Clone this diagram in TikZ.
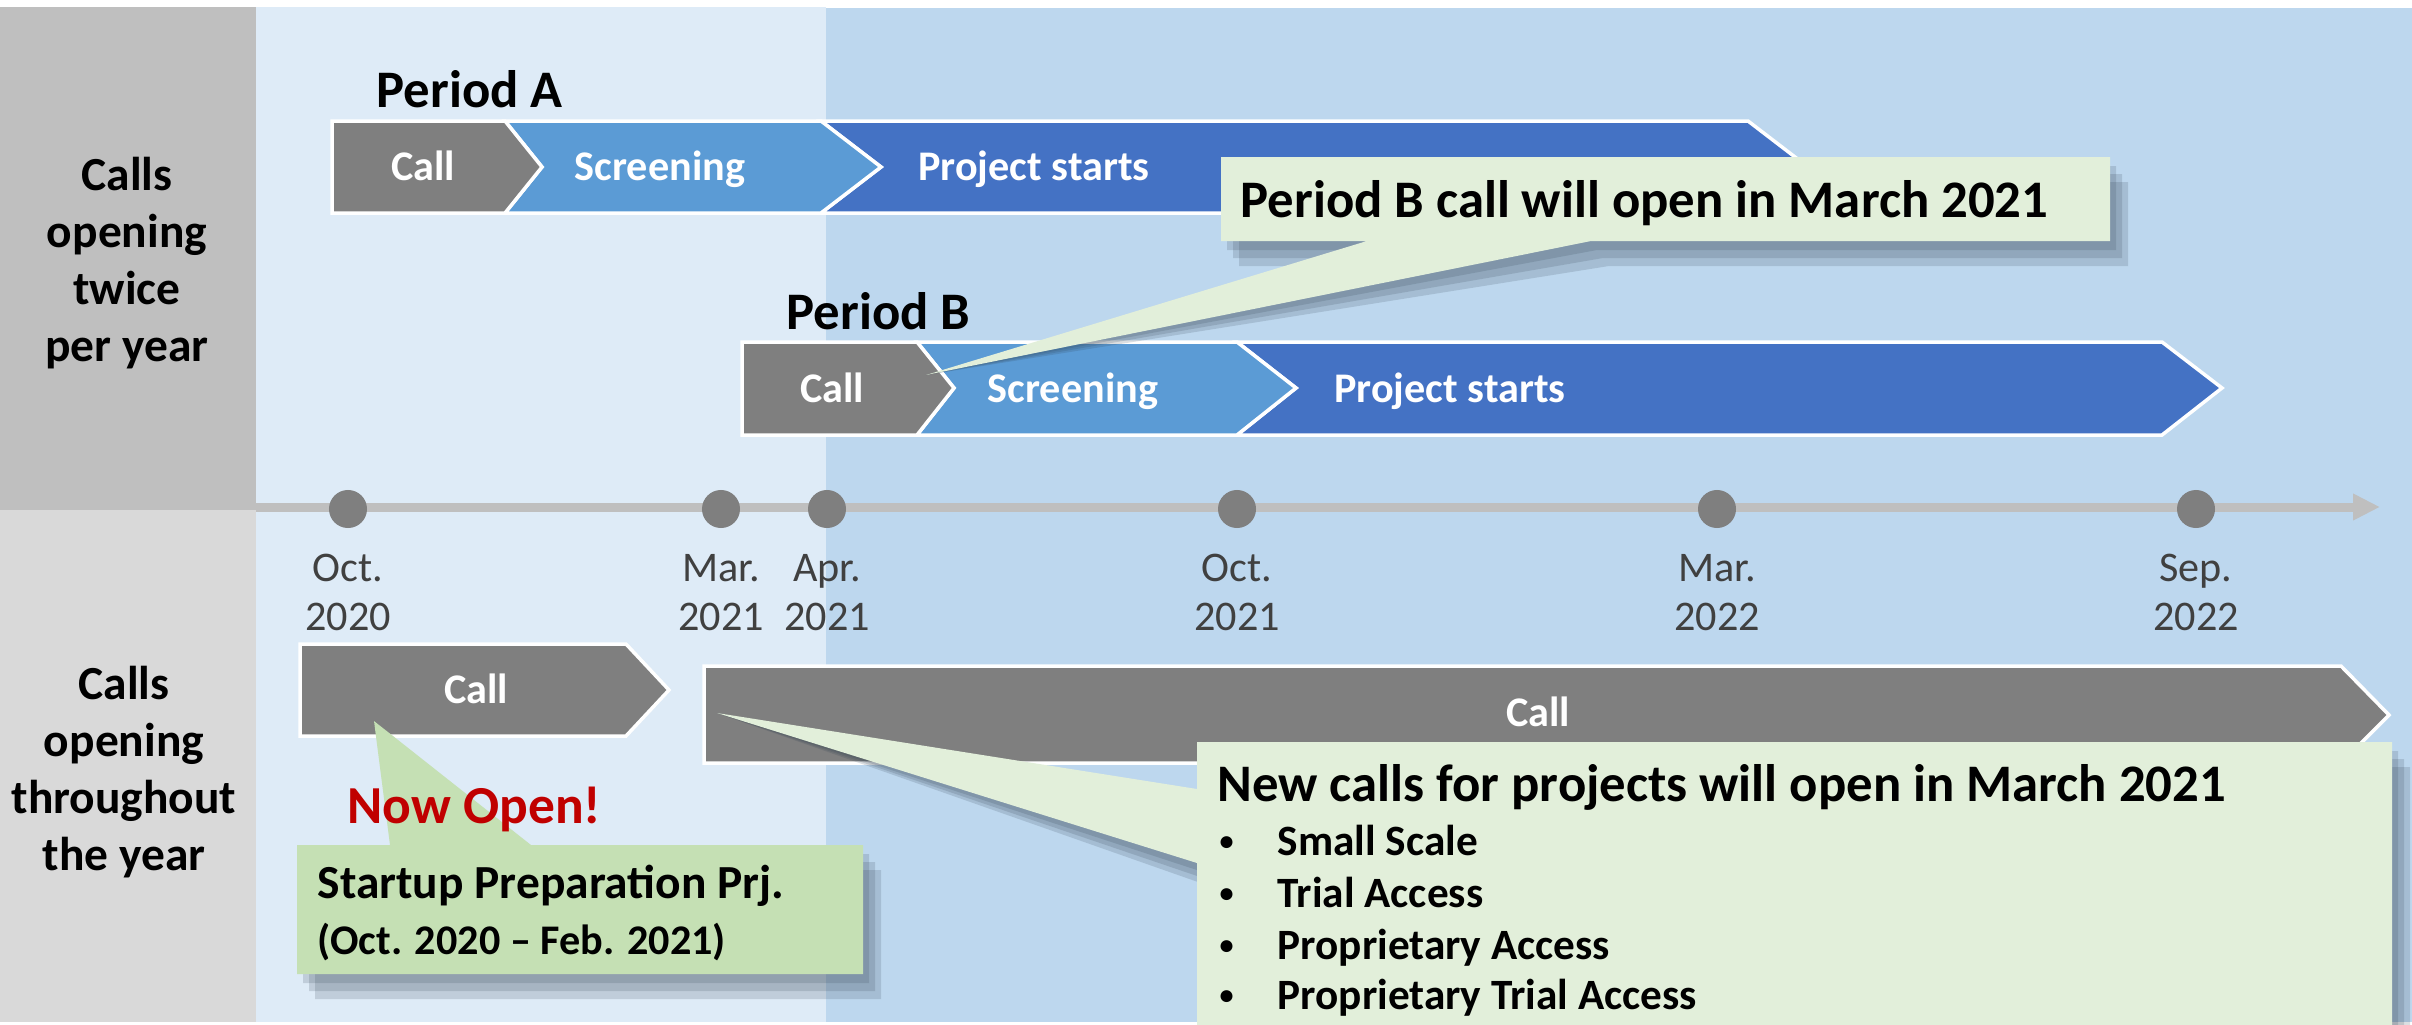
\documentclass[tikz,border=0pt]{standalone}
\usepackage{fontspec}
\setmainfont{Carlito}
\usetikzlibrary{arrows.meta}
\definecolor{graydark}{HTML}{BFBFBF}
\definecolor{graylight}{HTML}{D9D9D9}
\definecolor{bluelight}{HTML}{DEEBF7}
\definecolor{bluemid}{HTML}{BDD7EE}
\definecolor{chevgray}{HTML}{7F7F7F}
\definecolor{chevscreen}{HTML}{5B9BD5}
\definecolor{chevproj}{HTML}{4472C4}
\definecolor{callpale}{HTML}{E2EFDA}
\definecolor{callgreen}{HTML}{C5E0B4}
\definecolor{nowred}{HTML}{C00000}
\definecolor{datetext}{HTML}{404040}
\definecolor{shadowcol}{HTML}{2F3F4F}
\begin{document}
\begin{tikzpicture}[x=0.01cm,y=-0.01cm,
  chev/.style={draw=white,line width=0.035cm,line join=miter},
  chevlbl/.style={text=white,font=\fontsize{12}{14}\selectfont\bfseries,anchor=base,inner sep=0pt},
  periodlbl/.style={font=\fontsize{15}{18}\selectfont\bfseries,anchor=base west,inner sep=0pt},
  sidelbl/.style={font=\fontsize{13.5}{16.2}\selectfont\bfseries,align=center,inner sep=0pt},
  datelbl/.style={text=datetext,font=\fontsize{12}{14}\selectfont,anchor=base,inner sep=0pt},
  dot/.style={circle,fill=chevgray,minimum size=0.38cm,inner sep=0pt},
  shadowlayer/.style={fill=shadowcol,opacity=0.17},
  bigtext/.style={font=\fontsize{15}{18}\selectfont\bfseries,anchor=base west,inner sep=0pt},
  itemtext/.style={font=\fontsize{12.3}{14}\selectfont\bfseries,anchor=base west,inner sep=0pt},
  bulletmark/.style={font=\fontsize{8}{10}\selectfont\bfseries,anchor=base west,inner sep=0pt},
]
\useasboundingbox (0,0) rectangle (2412,1024);
% backgrounds
\fill[graydark] (0,7) rectangle (256,510);
\fill[graylight] (0,510) rectangle (256,1022);
\fill[bluelight] (256,7) rectangle (826,1022);
\fill[bluemid] (826,8) rectangle (2412,1022);

% side labels
\node[sidelbl] (sideA) at (127,263) {Calls\\opening\\twice\\per year};
\node[sidelbl] (sideB) at (124,772) {Calls\\opening\\throughout\\the year};

% timeline
\coordinate (tlstart) at (256,507);
\coordinate (tlend) at (2380,507);
\draw[graydark,line width=0.09cm,-{Triangle[length=0.27cm,width=0.25cm]}] (tlstart) -- (tlend);
\node[dot] (d1) at (348,509) {};
\node[dot] (d2) at (721,509) {};
\node[dot] (d3) at (827,509) {};
\node[dot] (d4) at (1237,509) {};
\node[dot] (d5) at (1717,509) {};
\node[dot] (d6) at (2196,509) {};

% date labels
\node[datelbl] (m1) at (348,581) {Oct.};   \node[datelbl] (y1) at (348,630) {2020};
\node[datelbl] (m2) at (721,581) {Mar.};   \node[datelbl] (y2) at (721,630) {2021};
\node[datelbl] (m3) at (827,581) {Apr.};   \node[datelbl] (y3) at (827,630) {2021};
\node[datelbl] (m4) at (1237,581) {Oct.};  \node[datelbl] (y4) at (1237,630) {2021};
\node[datelbl] (m5) at (1717,581) {Mar.};  \node[datelbl] (y5) at (1717,630) {2022};
\node[datelbl] (m6) at (2196,581) {Sep.};  \node[datelbl] (y6) at (2196,630) {2022};

% Period A
\node[periodlbl] (perA) at (376,107) {Period A};
\fill[chevproj,chev] (821,121) -- (1748,121) -- (1808,167) -- (1748,213) -- (821,213) -- (881,167) -- cycle;
\fill[chevscreen,chev] (505,121) -- (821,121) -- (881,167) -- (821,213) -- (505,213) -- (542,167) -- cycle;
\fill[chevgray,chev] (332,121) -- (505,121) -- (542,167) -- (505,213) -- (332,213) -- cycle;
\node[chevlbl] (aCall) at (423,180) {Call};
\node[chevlbl] (aScr) at (660,180) {Screening};
\node[chevlbl] (aProj) at (1034,180) {Project starts};

% Period B
\node[periodlbl] (perB) at (786,329) {Period B};
\fill[chevproj,chev] (1237,342) -- (2162,342) -- (2222,388) -- (2162,435) -- (1237,435) -- (1296,388) -- cycle;
\fill[chevscreen,chev] (917,342) -- (1237,342) -- (1296,388) -- (1237,435) -- (917,435) -- (954,388) -- cycle;
\fill[chevgray,chev] (742,342) -- (917,342) -- (954,388) -- (917,435) -- (742,435) -- cycle;
\node[chevlbl] (bCall) at (832,402) {Call};
\node[chevlbl] (bScr) at (1073,402) {Screening};
\node[chevlbl] (bProj) at (1450,402) {Project starts};

% bottom calls
\fill[chevgray,chev] (300,644) -- (626,644) -- (669,690) -- (626,736) -- (300,736) -- cycle;
\node[chevlbl] (cCall1) at (476,703) {Call};
\fill[chevgray,chev] (704,666) -- (2341,666) -- (2389,715) -- (2341,763) -- (704,763) -- cycle;
\node[chevlbl] (cCall2) at (1538,726) {Call};

% callout 1
\coordinate (tipA) at (926,375);
\def\pathA{(1221,157) -- (2110,157) -- (2110,241) -- (1591,241) -- (tipA) -- (1367,241) -- (1221,241) -- cycle}
\fill[shadowlayer,shift={(6,9)}] \pathA;
\fill[shadowlayer,shift={(12,17)}] \pathA;
\fill[shadowlayer,shift={(18,25)}] \pathA;
\fill[callpale] \pathA;
\node[bigtext] (noteA) at (1240,217) {Period B call will open in March 2021};

% callout 3
\coordinate (tipC) at (374,721);
\def\pathC{(297,845) -- (390,845) -- (tipC) -- (531,845) -- (863,845) -- (863,974) -- (297,974) -- cycle}
\fill[shadowlayer,shift={(6,9)}] \pathC;
\fill[shadowlayer,shift={(12,17)}] \pathC;
\fill[shadowlayer,shift={(18,25)}] \pathC;
\fill[callgreen] \pathC;
\node[font=\fontsize{15.2}{18}\selectfont\bfseries,text=nowred,anchor=base west,inner sep=0pt] (nowopen) at (347,823) {Now Open!};
\node[font=\fontsize{13.5}{16}\selectfont\bfseries,anchor=base west,inner sep=0pt] (sp1) at (317,898) {Startup Preparation Prj.};
\node[font=\fontsize{12}{14}\selectfont\bfseries,anchor=base west,inner sep=0pt] (sp2) at (317,954) {(Oct. 2020 – Feb. 2021)};

% callout 2
\coordinate (tipB) at (717,713);
\def\pathB{(1197,742) -- (2392,742) -- (2392,1030) -- (1197,1030) -- (1197,863) -- (tipB) -- (1197,789) -- cycle}
\fill[shadowlayer,shift={(6,9)}] \pathB;
\fill[shadowlayer,shift={(12,17)}] \pathB;
\fill[shadowlayer,shift={(18,25)}] \pathB;
\fill[callpale] \pathB;
\node[bigtext] (noteB) at (1217,801) {New calls for projects will open in March 2021};
\node[bulletmark] (bu1) at (1219,850) {•};
\node[itemtext] (it1) at (1277,855) {Small Scale};
\node[bulletmark] (bu2) at (1219,902) {•};
\node[itemtext] (it2) at (1277,907) {Trial Access};
\node[bulletmark] (bu3) at (1219,954) {•};
\node[itemtext] (it3) at (1277,959) {Proprietary Access};
\node[bulletmark] (bu4) at (1219,1004) {•};
\node[itemtext] (it4) at (1277,1009) {Proprietary Trial Access};
\end{tikzpicture}
\end{document}
